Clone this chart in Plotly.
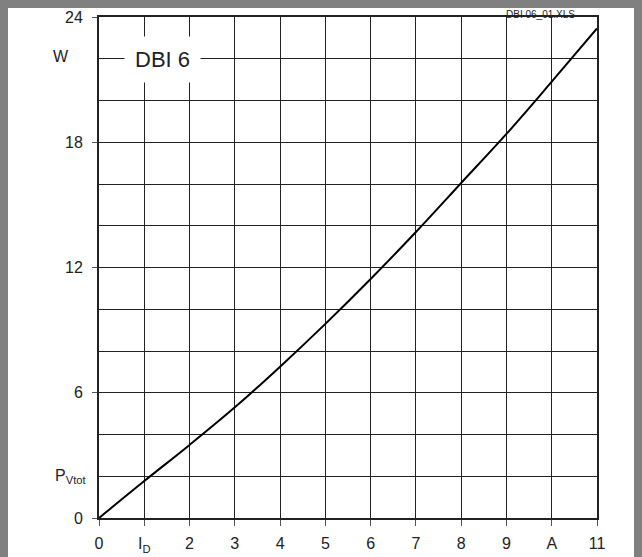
import plotly.graph_objects as go

# Data
current_a = [0, 1, 2, 3, 4, 5, 6, 7, 8, 9, 10, 11]
power_w = [0, 1.77, 3.5, 5.3, 7.25, 9.3, 11.45, 13.7, 16.05, 18.4, 20.9, 23.45]

x_tickvals = [0, 1, 2, 3, 4, 5, 6, 7, 8, 9, 10, 11]
x_ticktext = ["0", "I<sub>D</sub>", "2", "3", "4", "5", "6", "7", "8", "9", "A", "11"]
y_tickvals = [0, 6, 12, 18, 24]
y_ticktext = ["0", "6", "12", "18", "24"]

W, H = 642, 557
OFF = 8  # page body margin
L, R, T, B = 91, 53, 9, 47
PW = W - L - R
PH = H - T - B

def px_x(p):  # page pixel -> paper x
    return (p - OFF - L) / PW

def px_y(p):  # page pixel -> paper y
    return 1 - (p - OFF - T) / PH

FONT = "Liberation Sans, Arial, sans-serif"
DARK = "#222222"

fig = go.Figure()
fig.add_trace(go.Scatter(x=current_a, y=power_w, mode="lines",
                         line=dict(color="black", width=2, shape="spline", smoothing=1),
                         hoverinfo="skip", showlegend=False))

fig.update_layout(
    width=W, height=H,
    margin=dict(l=L, r=R, t=T, b=B, autoexpand=False),
    paper_bgcolor="white", plot_bgcolor="white",
    font=dict(family=FONT, size=16, color="#222222"),
    showlegend=False,
    xaxis=dict(range=[0, 11], tickmode="array", tickvals=x_tickvals, ticktext=x_ticktext,
               automargin=False,
               showgrid=True, gridcolor=DARK, gridwidth=1,
               showline=True, linecolor=DARK, linewidth=2, mirror=True,
               ticks="outside", ticklen=6, tickcolor="#555555", tickwidth=1,
               ticklabelstandoff=4, zeroline=False),
    yaxis=dict(range=[0, 24], tickmode="array", tickvals=y_tickvals, ticktext=y_ticktext,
               automargin=False,
               showgrid=True, gridcolor=DARK, gridwidth=1,
               minor=dict(tickmode="linear", tick0=0, dtick=2, showgrid=True,
                          gridcolor=DARK, gridwidth=1, ticks=""),
               showline=True, linecolor=DARK, linewidth=2, mirror=True,
               ticks="outside", ticklen=5, tickcolor="#555555", tickwidth=1,
               ticklabelstandoff=6, zeroline=False),
)

# labels
fig.add_annotation(x=px_x(61), xref="paper", y=22.1, yref="y", text="W",
                   showarrow=False, xanchor="center", yanchor="middle",
                   font=dict(size=16, family=FONT, color="#222222"))
fig.add_annotation(x=px_x(88), xref="paper", y=2.0, yref="y", text="P<sub>Vtot</sub>",
                   showarrow=False, xanchor="right", yanchor="middle",
                   font=dict(size=16, family=FONT, color="#222222"))
fig.add_annotation(x=1.41, y=21.95, xref="x", yref="y", text="DBI 6",
                   showarrow=False, xanchor="center", yanchor="middle",
                   bgcolor="white", borderpad=10,
                   font=dict(size=22, family=FONT, color="#222222"))
fig.add_annotation(x=px_x(540), xref="paper", y=px_y(8), yref="paper", text="DBI 06_01.XLS",
                   showarrow=False, xanchor="center", yanchor="top", borderpad=0,
                   font=dict(size=10, family=FONT, color="#222222"))

# gray page background shows in the body margin (top and left), as in the reference
fig.write_html("out.html", post_script="document.body.style.backgroundColor='#808080';")
